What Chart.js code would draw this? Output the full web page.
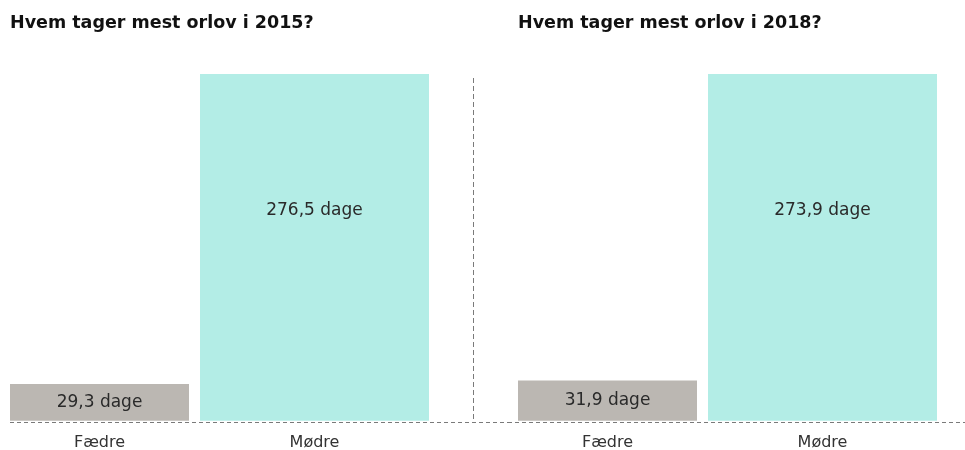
<!DOCTYPE html>
<html lang="da">
<head>
<meta charset="utf-8">
<script src="https://cdn.jsdelivr.net/npm/chart.js@4.4.0/dist/chart.umd.min.js"></script>
<style>
    html, body {
        margin: 0;
        padding: 0;
        width: 965px;
        height: 450px;
        overflow: hidden;
        background: #fff;
        font-family: "DejaVu Sans", Verdana, sans-serif;
    }
    .panel {
        position: absolute;
        top: 0;
        height: 464px;
    }
    .titel {
        position: absolute;
        top: 12px;
        font-weight: bold;
        font-size: 17.5px;
        line-height: 20px;
        color: #111;
        white-space: nowrap;
        z-index: 2;
    }
</style>
</head>
<body>
<div class="panel" style="left:0;width:508px;"><canvas id="chart-orlov-2015"></canvas></div>
<div class="panel" style="left:508px;width:457px;"><canvas id="chart-orlov-2018"></canvas></div>
<div class="titel" id="titel-2015" style="left:10px;"></div>
<div class="titel" id="titel-2018" style="left:518px;"></div>

<script>
// data
const kategorier = ["Fædre", "Mødre"];
const dage2015 = [29.3, 276.5];
const dage2018 = [31.9, 273.9];
const titler = ["Hvem tager mest orlov i 2015?", "Hvem tager mest orlov i 2018?"];

document.getElementById("titel-2015").textContent = titler[0];
document.getElementById("titel-2018").textContent = titler[1];

const farveFar = "rgb(187, 183, 178)";
const farveMor = "rgb(179, 237, 230)";

// tekst inde i søjlerne, fx "276,5 dage"
const vaerdiLabels = {
    id: "vaerdiLabels",
    afterDatasetsDraw(chart) {
        const ctx = chart.ctx;
        ctx.save();
        ctx.font = "17px 'DejaVu Sans'";
        ctx.fillStyle = "#2a2a2a";
        ctx.textAlign = "center";
        ctx.textBaseline = "middle";
        chart.data.datasets.forEach((ds, i) => {
            const meta = chart.getDatasetMeta(i);
            meta.data.forEach((bar, j) => {
                const v = ds.data[j];
                if (v === null || v === undefined) return;
                const h = bar.base - bar.y;
                // høje søjler: teksten sidder lidt over midten
                const y = h > 120 ? bar.y + h * 0.395 : bar.y + h / 2;
                const txt = v.toFixed(1).replace(".", ",") + " dage";
                ctx.fillText(txt, bar.x, y);
            });
        });
        ctx.restore();
    },
};

// stiplet grundlinje + skillelinje
const stipler = {
    id: "stipler",
    afterDraw(chart, args, opts) {
        const ctx = chart.ctx;
        const y0 = Math.round(chart.scales.y.getPixelForValue(0)) + 1.5;
        ctx.save();
        ctx.strokeStyle = "#7a7a7a";
        ctx.lineWidth = 1;
        ctx.setLineDash([4, 3]);
        ctx.beginPath();
        ctx.moveTo(opts.fra, y0);
        ctx.lineTo(chart.width, y0);
        ctx.stroke();
        if (opts.skille) {
            ctx.setLineDash([5, 3]);
            ctx.beginPath();
            ctx.moveTo(opts.skille + 0.5, chart.chartArea.top + 4);
            ctx.lineTo(opts.skille + 0.5, y0);
            ctx.stroke();
        }
        ctx.restore();
    },
};

const lavConfig = (data, padHoejre, stipOpts) => ({
    type: "bar",
    data: {
        labels: kategorier,
        datasets: [
            {
                label: kategorier[0],
                data: [data[0], null],
                backgroundColor: farveFar,
                borderWidth: 0,
                categoryPercentage: 1,
                barPercentage: 179 / 215,
                clip: false,
            },
            {
                label: kategorier[1],
                data: [null, data[1]],
                backgroundColor: farveMor,
                borderWidth: 0,
                categoryPercentage: 1,
                barPercentage: 229 / 215,
                clip: false,
            },
        ],
    },
    options: {
        responsive: true,
        maintainAspectRatio: false,
        animation: false,
        events: [],
        layout: {
            padding: { left: 99.5, right: padHoejre, top: 74, bottom: 0 },
        },
        plugins: {
            legend: { display: false },
            tooltip: { enabled: false },
            title: { display: false },
            stipler: stipOpts,
        },
        scales: {
            x: {
                offset: false,
                grid: { display: false, drawTicks: false },
                border: { display: false },
                ticks: {
                    color: "#333",
                    padding: 12,
                    maxRotation: 0,
                    font: { family: "DejaVu Sans", size: 16 },
                },
            },
            y: {
                display: false,
                min: 0,
                max: Math.max(...data),
            },
        },
        datasets: {
            bar: { grouped: false },
        },
    },
    plugins: [vaerdiLabels, stipler],
});

new Chart(document.getElementById("chart-orlov-2015"), lavConfig(dage2015, 193.5, { fra: 10, skille: 473 }));
new Chart(document.getElementById("chart-orlov-2018"), lavConfig(dage2018, 142.5, { fra: 0, skille: 0 }));
</script>
</body>
</html>
